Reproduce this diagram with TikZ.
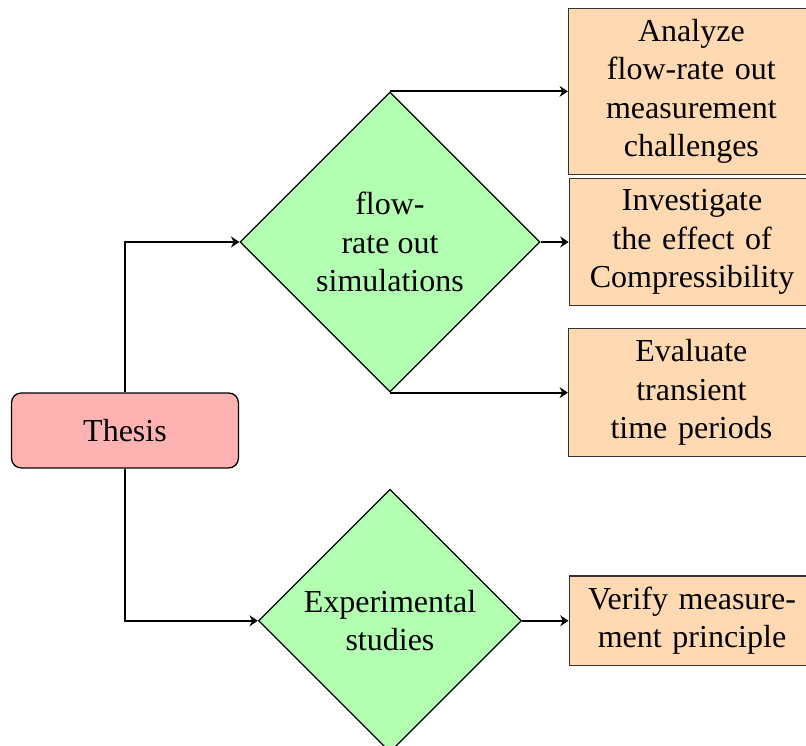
\documentclass[tikz,border=0pt]{standalone}
\usepackage{fontspec}
\setmainfont{Liberation Serif}
\usepackage{tikz}
\usetikzlibrary{arrows.meta,positioning,shapes.geometric}
\tikzset{
  root/.style={rounded corners=3pt, draw=black, fill=red!30, align=center,
               minimum width=70.9pt, minimum height=23.4pt},
  branch/.style={diamond, draw=black, fill=green!30, align=center, inner sep=2pt},
  task/.style={rectangle, draw=black!80, fill=orange!30, align=center,
               text width=70pt, inner sep=3.4pt},
  link/.style={-{Stealth[length=2.6pt,width=3.4pt]}, semithick, draw=black},
}
\begin{document}
\begin{tikzpicture}
  \useasboundingbox (0,0) rectangle (251.9pt,-233.1pt);
  \node[root] (thesis) at (39.06pt,-134.53pt) {Thesis};
  \node[branch, minimum width=93.75pt, minimum height=93.75pt] (sim)
    at (121.88pt,-75.63pt) {flow-\\rate out\\simulations};
  \node[branch, minimum width=82.2pt, minimum height=82.2pt, below=30pt of sim] (exp)
    {Experimental\\studies};
  % tasks on the right
  \node[task, right=55.6pt of sim.north] (anal)
    {Analyze\\flow-rate out\\measurement\\challenges};
  \node[task, right=8.75pt of sim] (comp)
    {Investigate\\the effect of\\Compressibility};
  \node[task, right=55.6pt of sim.south] (trans)
    {Evaluate\\transient\\time periods};
  \node[task, right=14.5pt of exp] (verify)
    {Verify measure-\\ment principle};
  \draw[link] (thesis.north) |- (sim.west);
  \draw[link] (thesis.south) |- (exp.west);
  \draw[link] (sim.north) -- (anal.west |- sim.north);
  \draw[link] (sim.east) -- (comp.west);
  \draw[link] (sim.south) -- (trans.west |- sim.south);
  \draw[link] (exp.east) -- (verify.west);
\end{tikzpicture}
\end{document}
